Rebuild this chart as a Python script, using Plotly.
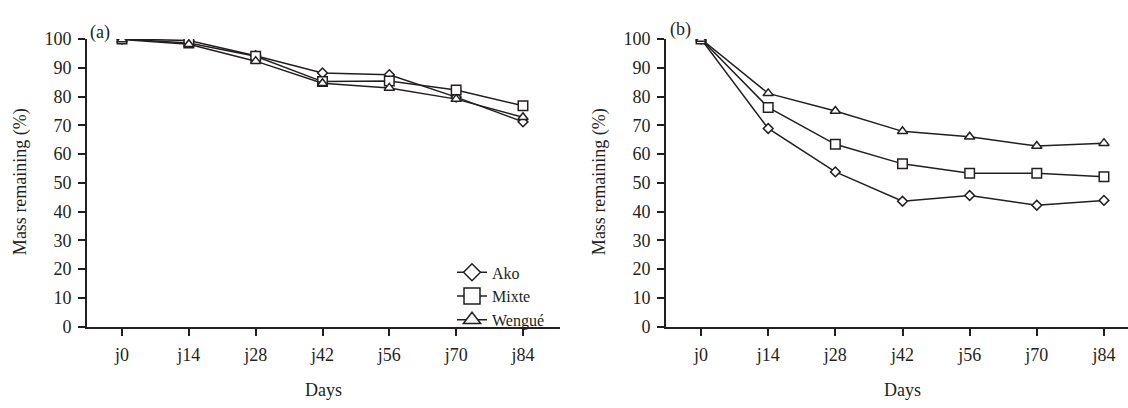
import plotly.graph_objects as go

days = ["j0", "j14", "j28", "j42", "j56", "j70", "j84"]
series_names = ["Ako", "Mixte", "Wengué"]

# Panel (a)
a_ako = [100, 99.5, 94.2, 88.2, 87.6, 79.8, 71.2]
a_mixte = [100, 98.6, 94.0, 85.2, 85.4, 82.3, 76.8]
a_wengue = [99.8, 98.2, 92.3, 84.6, 83.0, 79.1, 72.8]

# Panel (b)
b_ako = [100, 68.9, 53.8, 43.6, 45.6, 42.2, 43.9]
b_mixte = [100, 76.2, 63.4, 56.6, 53.3, 53.3, 52.1]
b_wengue = [100, 81.1, 75.0, 67.9, 66.0, 62.8, 63.8]

INK = "#231f20"
FONT = "Liberation Serif, Times New Roman, serif"
symbols = ["diamond", "square", "triangle-up"]
sizes = [7.5, 9.5, 9]
legend_sizes = [13, 16, 15]

W, H = 1128, 408
def px(x):
    return x / W
def py(y):
    return 1 - y / H

fig = go.Figure()

for panel, data in (("a", [a_ako, a_mixte, a_wengue]), ("b", [b_ako, b_mixte, b_wengue])):
    xa = "x" if panel == "a" else "x2"
    ya = "y" if panel == "a" else "y2"
    for name, vals, sym, sz in zip(series_names, data, symbols, sizes):
        fig.add_trace(go.Scatter(
            x=days, y=vals, mode="lines+markers", name=name,
            xaxis=xa, yaxis=ya, showlegend=False,
            line=dict(color=INK, width=1.5),
            marker=dict(symbol=sym, size=sz, color="white",
                        line=dict(color=INK, width=1.5)),
        ))

# legend-only traces (larger symbols as in the reference legend)
for name, sym, sz in zip(series_names, symbols, legend_sizes):
    fig.add_trace(go.Scatter(
        x=[None], y=[None], mode="lines+markers", name=name,
        xaxis="x", yaxis="y", showlegend=True,
        line=dict(color=INK, width=1.5),
        marker=dict(symbol=sym, size=sz, color="white",
                    line=dict(color=INK, width=1.5)),
    ))

axis_common = dict(
    showline=True, linecolor=INK, linewidth=2,
    ticks="outside", ticklen=7, tickwidth=2, tickcolor=INK,
    showgrid=False, zeroline=False,
    tickfont=dict(family=FONT, size=18, color=INK),
)

y_top, y_bot = 30.5, 333
fig.update_layout(
    width=W, height=H,
    margin=dict(l=0, r=0, t=0, b=0),
    paper_bgcolor="white", plot_bgcolor="white",
    font=dict(family=FONT, size=18, color=INK),
    xaxis=dict(domain=[px(87), px(560)], range=[-0.524, 6.554], type="category",
               anchor="y", ticklabelstandoff=4, **axis_common),
    yaxis=dict(domain=[py(y_bot), py(y_top)], range=[0, 100], dtick=10,
               anchor="x", ticklabelstandoff=3, **axis_common),
    xaxis2=dict(domain=[px(666), 1.0], range=[-0.522, 6.358], type="category",
                anchor="y2", ticklabelstandoff=4, **axis_common),
    yaxis2=dict(domain=[py(y_bot), py(y_top)], range=[0, 100], dtick=10,
                anchor="x2", ticklabelstandoff=3, **axis_common),
    legend=dict(x=px(452), y=py(258), xanchor="left", yanchor="top",
                bgcolor="rgba(0,0,0,0)", borderwidth=0,
                font=dict(family=FONT, size=16, color=INK),
                itemsizing="trace"),
    annotations=[
        dict(text="(a)", x=px(88), y=py(24), xref="paper", yref="paper",
             xanchor="left", yanchor="middle", showarrow=False,
             font=dict(family=FONT, size=18, color=INK)),
        dict(text="(b)", x=px(668), y=py(21), xref="paper", yref="paper",
             xanchor="left", yanchor="middle", showarrow=False,
             font=dict(family=FONT, size=18, color=INK)),
        dict(text="Mass remaining (%)", x=px(20), y=py(181), xref="paper", yref="paper",
             xanchor="center", yanchor="middle", showarrow=False, textangle=-90,
             font=dict(family=FONT, size=18, color=INK)),
        dict(text="Mass remaining (%)", x=px(599), y=py(181), xref="paper", yref="paper",
             xanchor="center", yanchor="middle", showarrow=False, textangle=-90,
             font=dict(family=FONT, size=18, color=INK)),
        dict(text="Days", x=px(323), y=py(400), xref="paper", yref="paper",
             xanchor="center", yanchor="middle", showarrow=False,
             font=dict(family=FONT, size=18, color=INK)),
        dict(text="Days", x=px(903), y=py(400), xref="paper", yref="paper",
             xanchor="center", yanchor="middle", showarrow=False,
             font=dict(family=FONT, size=18, color=INK)),
    ],
)

fig.write_html(
    "out.html",
    config={"displayModeBar": False},
    post_script="document.body.style.margin='0';document.body.style.overflow='hidden';",
)
